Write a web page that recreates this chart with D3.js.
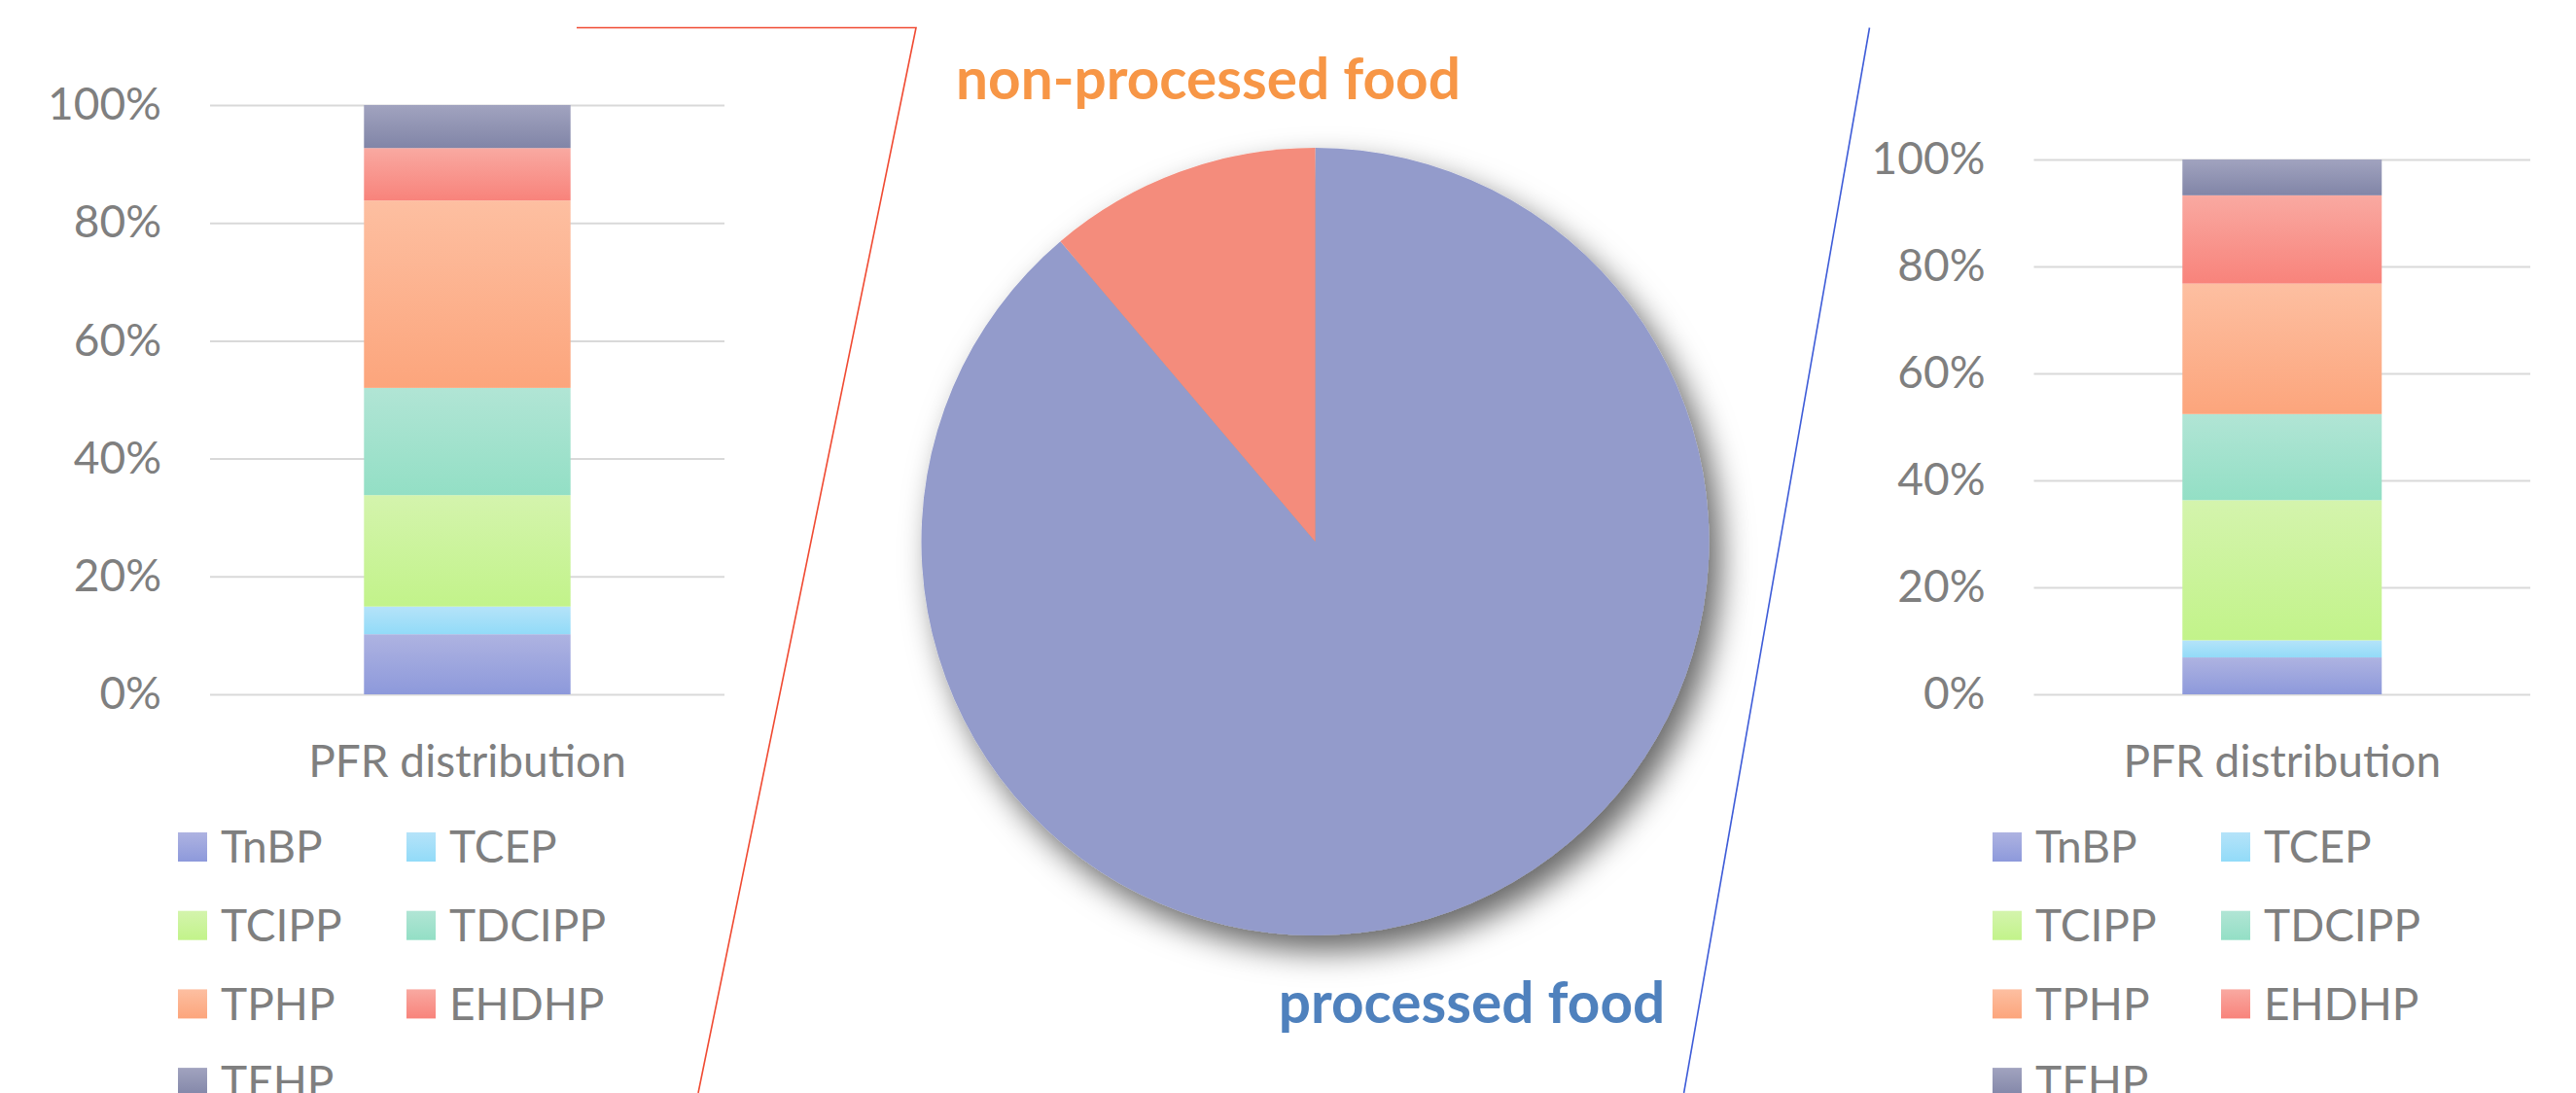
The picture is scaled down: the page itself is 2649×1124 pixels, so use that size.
<!DOCTYPE html>
<html>
<head>
<meta charset="utf-8">
<title>PFR distribution</title>
<script src="https://cdn.jsdelivr.net/npm/d3@7"></script>
<style>
    body {
        margin: 0;
        background: #fff;
    }

    svg,
    svg text {
        display: block;
        font-family: Lato, "Open Sans", sans-serif;
    }

    .grid .tick line {
        stroke: #d9d9d9;
        stroke-width: 2;
    }

    .grid .tick text,
    .cat-label,
    .legend text {
        fill: #7f7f7f;
        font-size: 46px;
    }

    .food-label {
        font-size: 58.5px;
        font-weight: bold;
    }
</style>
</head>
<body>
<script>
// values (share of each PFR, in %)
const compounds = ["TnBP", "TCEP", "TCIPP", "TDCIPP", "TPHP", "EHDHP", "TEHP"];
const nonProcessedShares = [10.2, 4.7, 18.9, 18.2, 31.8, 8.9, 7.3];
const processedShares = [6.9, 3.2, 26.2, 16.1, 24.4, 16.5, 6.7];
const barCategory = ["PFR distribution"];
const yTicks = [0, 0.2, 0.4, 0.6, 0.8, 1];

// pie: processed vs non-processed food
const foodTypes = ["processed food", "non-processed food"];
const foodShares = [88.8, 11.2];

// colours (bars have a light -> saturated gradient from top to bottom)
const topColors = ["#aeb3e1", "#b5e3f9", "#d4f4ad", "#b1e5d5", "#fdbfa1", "#f9a9a1", "#a1a3bf"];
const bottomColors = ["#8d99db", "#92dbf8", "#c2f38a", "#93dfc5", "#fca57c", "#f8837b", "#8185a7"];
const foodColors = ["#939bcb", "#f48c7b"];
const foodLabelColors = ["#4f81bd", "#f79646"];

const width = 2649,
    height = 1124;

const svg = d3.select("body").append("svg")
    .attr("width", width)
    .attr("height", height);

svg.append("rect")
    .attr("width", width)
    .attr("height", height)
    .attr("fill", "#fff");

const defs = svg.append("defs");

// one vertical gradient per compound
compounds.forEach(function (c, i) {
    const grad = defs.append("linearGradient")
        .attr("id", "grad-" + c)
        .attr("x1", 0).attr("y1", 0)
        .attr("x2", 0).attr("y2", 1);
    grad.append("stop").attr("offset", "0%").attr("stop-color", topColors[i]);
    grad.append("stop").attr("offset", "100%").attr("stop-color", bottomColors[i]);
});

// soft shadow under the pie
defs.append("filter")
    .attr("id", "pie-shadow")
    .attr("x", "-20%").attr("y", "-20%")
    .attr("width", "150%").attr("height", "150%")
    .append("feDropShadow")
    .attr("dx", 12)
    .attr("dy", 16)
    .attr("stdDeviation", 16)
    .attr("flood-color", "#000")
    .attr("flood-opacity", 0.6);

// connector lines between the pie and the two bars
svg.append("polyline")
    .attr("points", "593,28.5 942,28.5 718,1124")
    .attr("fill", "none")
    .attr("stroke", "#f04a32")
    .attr("stroke-width", 1.6);

svg.append("line")
    .attr("x1", 1922.5).attr("y1", 28.5)
    .attr("x2", 1731.6).attr("y2", 1124)
    .attr("stroke", "#3e5cd8")
    .attr("stroke-width", 1.6);

makeStackedBar(nonProcessedShares, {
    left: 216,
    right: 745,
    top: 108,
    bottom: 714,
    legendX: 183
});

makeStackedBar(processedShares, {
    left: 2091.5,
    right: 2602,
    top: 164,
    bottom: 714,
    legendX: 2049
});

makePie();

function makeStackedBar(shares, box) {
    const row = {
        category: barCategory[0]
    };
    compounds.forEach((c, i) => row[c] = shares[i] / 100);

    const series = d3.stack().keys(compounds)([row]);

    const x = d3.scaleBand()
        .domain(barCategory)
        .range([box.left, box.right])
        .padding(0.427);

    const y = d3.scaleLinear()
        .domain([0, 1])
        .range([box.bottom, box.top]);

    // gridlines + percent labels
    svg.append("g")
        .attr("class", "grid")
        .attr("transform", "translate(" + box.left + ",0)")
        .call(d3.axisLeft(y)
            .tickValues(yTicks)
            .tickFormat(d3.format(".0%"))
            .tickSize(-(box.right - box.left))
            .tickPadding(50))
        .call(g => g.attr("font-family", null).attr("font-size", null))
        .call(g => g.select(".domain").remove());

    svg.append("g")
        .selectAll("rect")
        .data(series)
        .enter().append("rect")
        .attr("x", d => x(d[0].data.category))
        .attr("width", x.bandwidth())
        .attr("y", d => y(d[0][1]))
        .attr("height", d => y(d[0][0]) - y(d[0][1]))
        .style("fill", d => "url(#grad-" + d.key + ")");

    svg.append("text")
        .attr("class", "cat-label")
        .attr("text-anchor", "middle")
        .attr("x", x(barCategory[0]) + x.bandwidth() / 2)
        .attr("y", box.bottom + 85)
        .text(barCategory[0]);

    // legend, two columns
    const item = svg.append("g")
        .attr("class", "legend")
        .selectAll("g")
        .data(compounds)
        .enter().append("g")
        .attr("transform", (d, i) => "translate(" + (box.legendX + (i % 2) * 235) + "," +
            (856 + Math.floor(i / 2) * 80.7) + ")");

    item.append("rect")
        .attr("width", 30)
        .attr("height", 30)
        .style("fill", d => "url(#grad-" + d + ")");

    item.append("text")
        .attr("x", 44)
        .attr("y", 15)
        .attr("dy", "0.35em")
        .text(d => d);
}

function makePie() {
    const cx = 1352.5,
        cy = 557,
        raduis = 405;

    const data = foodTypes.map((t, i) => ({
        type: t,
        share: foodShares[i]
    }));

    const pie = d3.pie()
        .sort(null)
        .value(d => d.share);

    const arc = d3.arc()
        .innerRadius(0)
        .outerRadius(raduis);

    const g = svg.append("g")
        .attr("transform", "translate(" + cx + "," + cy + ")");

    g.append("g")
        .attr("filter", "url(#pie-shadow)")
        .selectAll("path")
        .data(pie(data))
        .enter().append("path")
        .attr("d", arc)
        .style("fill", (d, i) => foodColors[i]);

    // labels were dragged outside the pie in the original
    const labelOffsets = [
        [161, 495],
        [-110, -455]
    ];

    g.selectAll(".food-label")
        .data(data)
        .enter().append("text")
        .attr("class", "food-label")
        .attr("text-anchor", "middle")
        .attr("x", (d, i) => labelOffsets[i][0])
        .attr("y", (d, i) => labelOffsets[i][1])
        .style("fill", (d, i) => foodLabelColors[i])
        .text(d => d.type);
}
</script>
</body>
</html>
